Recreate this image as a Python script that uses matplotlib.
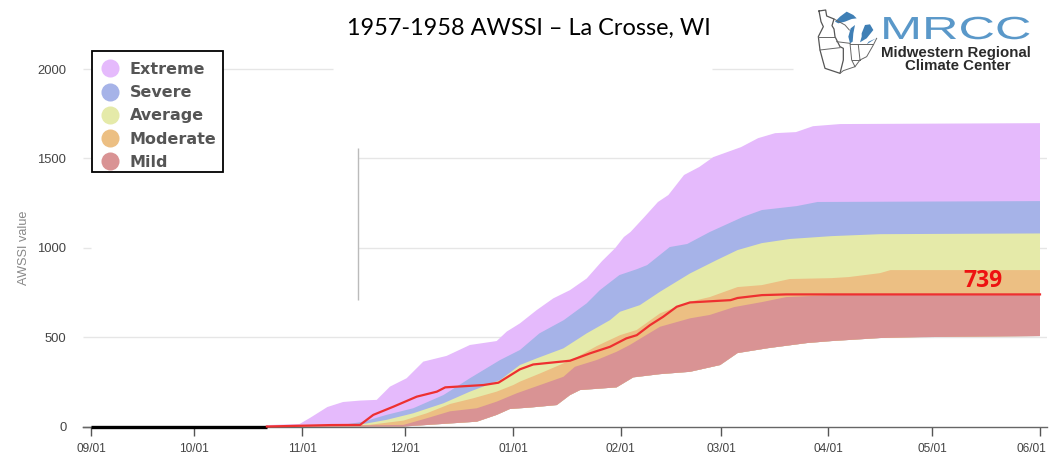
#!/usr/bin/env python3

import matplotlib

matplotlib.use("Agg")
import matplotlib.pyplot as plt
import numpy as np
from matplotlib.lines import Line2D
from matplotlib.patches import Polygon, Rectangle
from matplotlib.patheffects import AbstractPathEffect
from matplotlib.transforms import Affine2D, ScaledTranslation

W, H = 1051, 469

# days since 09/01 and AWSSI values
tick_days = [0, 29.6, 60.7, 90.3, 121.4, 152.4, 181.2, 212, 242, 273]
tick_labels = ["09/01", "10/01", "11/01", "12/01", "01/01", "02/01", "03/01", "04/01", "05/01", "06/01"]
y_ticks = [0, 500, 1000, 1500, 2000]

extreme_days = [50.6, 60, 63, 68, 72.5, 77.4, 82.2, 86, 90.8, 95.6, 102.3, 109, 116.7, 119.6, 123.4, 128.2, 133,
                137.8, 142.6, 147, 150.8, 153.3, 155.2, 159.2, 163.1, 166.1, 170.6, 175, 179, 187, 191.9, 196.8,
                202.8, 207.7, 215.5, 273]
extreme_top = [8, 14, 48, 109, 137, 145, 149, 223, 270, 363, 395, 456, 478, 531, 577, 651, 717,
               763, 828, 925, 998, 1060, 1088, 1172, 1256, 1295, 1407, 1452, 1507, 1563, 1613, 1641,
               1647, 1680, 1692, 1697]

severe_days = [50.6, 72, 78.4, 85, 92.7, 101.4, 109, 117.7, 123.4, 129, 136, 142.6, 146.4, 152, 157, 160, 166.5,
               171.5, 178, 187.5, 193, 203, 209, 273]
severe_top = [0, 8, 27, 65, 102, 176, 270, 372, 428, 521, 595, 689, 763, 847, 880, 903, 1004,
              1021, 1088, 1172, 1211, 1233, 1256, 1261]

average_days = [50.6, 78.4, 85, 92.7, 101.4, 109, 117.7, 123.4, 128.2, 135.9, 142.6, 149.3, 152.2, 157.9, 163.7,
                172.3, 180, 186, 193, 201, 213, 227, 273]
average_top = [0, 14, 37, 74, 130, 195, 260, 344, 381, 437, 521, 595, 642, 679, 754,
               856, 931, 987, 1026, 1049, 1065, 1076, 1080]

moderate_days = [50.6, 80, 89.9, 96.6, 103.3, 110, 116.7, 121.5, 123.4, 129.2, 135.9, 139.7, 145.5, 152.2, 157,
                 163.7, 172.3, 178, 186, 193, 201, 213, 218, 227, 230, 273]
moderate_top = [0, 9, 33, 74, 126, 158, 195, 232, 251, 297, 353, 387, 450, 511, 540,
                633, 698, 724, 780, 791, 825, 830, 836, 858, 875, 875]

mild_days = [50.6, 89.9, 96.6, 103.3, 111, 116.7, 122.5, 129.2, 135.9, 139.2, 145.5, 151.2, 155, 158.9, 163.7,
             172.3, 178, 185, 193, 200, 213, 273]
mild_top = [0, 9, 46, 85, 102, 139, 186, 232, 278, 334, 372, 418, 456, 502, 558,
            605, 624, 668, 696, 724, 735, 741]

floor_days = [50.6, 89.9, 111, 116.7, 120.5, 126.3, 134, 137.8, 140.7, 151.2, 156, 163.7, 172.3, 181, 186, 195,
              206, 213, 227, 238.5, 273]
floor_vals = [0, 0, 27, 65, 98, 106, 120, 176, 204, 219, 275, 293, 306, 344, 411, 439,
              467, 478, 495, 500, 506]

season_days = [0, 50.6]
season_vals = [0, 0]
red_days = [50.6, 69, 77.4, 81.2, 87, 93.7, 99.5, 101.9, 112.9, 117.2, 123.4, 127.2, 137.8, 143.5, 149.3, 154, 157,
            160.8, 164.6, 168.5, 172.3, 184, 186, 193, 200, 273]
red_vals = [0, 8, 9, 65, 111, 167, 195, 219, 232, 245, 320, 347, 368, 409, 446, 493, 511,
            567, 614, 670, 694, 707, 719, 735, 739, 739]

band_names = ["Extreme", "Severe", "Average", "Moderate", "Mild"]
band_colors = ["#e5bafc", "#a6b3e8", "#e5eaa9", "#ecbf83", "#d99394"]


class StretchX(AbstractPathEffect):
    # the logo lettering is much wider than any installed font
    def __init__(self, factor):
        super().__init__()
        self.factor = factor

    def draw_path(self, renderer, gc, tpath, affine, rgbFace=None):
        renderer.draw_path(gc, tpath, Affine2D().scale(self.factor, 1) + affine, rgbFace)


def px_x(px):
    return (px - 91) * 273 / 949


def logo_xy(points):
    # traced on a 3x crop of the logo whose corner sits at (810, 5)
    pts = np.asarray(points, dtype=float)
    return 810 + pts[:, 0] / 3, 5 + pts[:, 1] / 3


def draw_logo(over):
    outline = [(27, 18), (47, 15), (50, 33), (72, 42), (66, 62), (72, 72), (75, 95), (90, 125), (100, 130),
               (100, 165), (90, 205), (45, 190), (38, 165), (30, 135), (25, 95), (40, 65), (33, 50), (27, 18)]
    states = [[(25, 95), (75, 95)], [(30, 135), (90, 128)], [(80, 110), (120, 115)],
              [(120, 115), (125, 165), (135, 185), (100, 197), (90, 205)],
              [(145, 120), (150, 165)], [(120, 118), (190, 118)], [(125, 165), (150, 165)],
              [(150, 165), (170, 155), (190, 120), (200, 100)], [(72, 42), (105, 60), (118, 75)],
              [(135, 185), (150, 165)]]
    lakes = [[(75, 50), (90, 35), (110, 20), (130, 30), (140, 40), (125, 42), (105, 50), (85, 55)],
             [(120, 115), (115, 95), (122, 70), (135, 60), (130, 85), (128, 110)],
             [(155, 85), (165, 60), (180, 58), (190, 75), (170, 100), (150, 112), (155, 95)],
             [(170, 118), (198, 100), (176, 110)]]
    over.plot(*logo_xy(outline), color="#555555", lw=0.9)
    for line in states:
        over.plot(*logo_xy(line), color="#666666", lw=0.7)
    for lake in lakes:
        xs, ys = logo_xy(lake)
        over.add_patch(Polygon(np.column_stack([xs, ys]), closed=True, fc="#3f7fb5", ec="none"))

    mrcc = over.text(880, 39, "MRCC", family="Liberation Sans", fontsize=23, color="#5a98c9", ha="left",
                     va="baseline")
    mrcc.set_path_effects([StretchX(1.58)])
    over.text(956, 52.5, "Midwestern Regional", family="Liberation Sans", fontsize=10.8, color="#2a2a2a",
              ha="center", va="center", fontweight="bold")
    over.text(958, 66.5, "Climate Center", family="Liberation Sans", fontsize=10.8, color="#2a2a2a",
              ha="center", va="center", fontweight="bold")


def draw_legend(over):
    over.add_patch(Rectangle((92, 51), 131, 121, fc="white", ec="black", lw=1.3, zorder=5))
    handles = [Line2D([], [], marker="o", ls="", ms=13, mec="none", color=c) for c in band_colors]
    over.legend(handles, band_names, loc="upper left", bbox_to_anchor=(92 / W, 1 - 57 / H),
                bbox_transform=over.figure.transFigure, borderaxespad=0, frameon=False,
                prop={"family": "DejaVu Sans", "size": 11.5, "weight": "bold"}, labelcolor="#555555",
                labelspacing=0.52, handletextpad=0.45, borderpad=0.3, handlelength=1.6).set_zorder(6)


def main():
    fig = plt.figure(figsize=(W / 100, H / 100), dpi=100)
    ax = fig.add_axes([83 / W, (H - 426.5) / H, 964 / W, 357.5 / H])
    ax.set_xlim(px_x(83), px_x(1047))
    ax.set_ylim(0, 2000)
    for side in ["top", "left", "right"]:
        ax.spines[side].set_visible(False)
    ax.spines["bottom"].set_color("#666666")
    ax.spines["bottom"].set_linewidth(1.0)

    # parts of the grid are painted out in the reference
    grid = "#e6e6e6"
    left, right = px_x(83), px_x(1047)
    ax.hlines(2000, left, px_x(333), color=grid, lw=1.0, zorder=1, clip_on=False)
    ax.hlines(2000, px_x(712), px_x(793), color=grid, lw=1.0, zorder=1, clip_on=False)
    for val in [1000, 1500]:
        ax.hlines(val, left, px_x(91), color=grid, lw=1.0, zorder=1)
        ax.hlines(val, px_x(358), right, color=grid, lw=1.0, zorder=1)
    ax.hlines(500, left, right, color=grid, lw=1.0, zorder=1)
    ax.vlines(px_x(358), 707, 1558, color="#bbbbbb", lw=1.0, zorder=1)

    # every band runs from its own top curve down to the bottom of the envelope
    bands = [(extreme_days, extreme_top), (severe_days, severe_top), (average_days, average_top),
             (moderate_days, moderate_top), (mild_days, mild_top)]
    for (days, tops), color in zip(bands, band_colors):
        ax.fill(np.r_[days, floor_days[::-1]], np.r_[tops, floor_vals[::-1]], color=color, lw=0, zorder=2)

    ax.plot(season_days, season_vals, color="black", lw=2.4, zorder=4, clip_on=False, solid_capstyle="butt")
    ax.plot(red_days, red_vals, color="#ee3030", lw=1.6, zorder=4, clip_on=False)
    ax.plot([left, 0], [0, 0], color="#666666", lw=1.0, zorder=3, clip_on=False)

    ax.set_xticks(tick_days, tick_labels)
    ax.set_yticks(y_ticks)
    ax.tick_params(axis="x", length=6.5, width=1.0, color="#555555", labelcolor="#444444", labelsize=8.6, pad=5.5)
    ax.tick_params(axis="y", length=0, labelcolor="#444444", labelsize=9.4, pad=12)
    for label in ax.get_xticklabels() + ax.get_yticklabels():
        label.set_family("Liberation Sans")
    last = ax.get_xticklabels()[-1]
    last.set_transform(last.get_transform() + ScaledTranslation(-9 / 100, 0, fig.dpi_scale_trans))

    ax.set_ylabel("AWSSI value", family="Liberation Sans", fontsize=9.2, color="#888888")
    ax.yaxis.set_label_coords((30 - 83) / 964, 0.5)

    ax.text(256.6, 812, "739", family="Open Sans", fontweight="bold", fontsize=16.5, color="#ee1111",
            ha="center", va="center", zorder=5)

    over = fig.add_axes([0, 0, 1, 1], facecolor="none")
    over.set_xlim(0, W)
    over.set_ylim(H, 0)
    over.axis("off")
    over.text(529, 28, "1957-1958 AWSSI \u2013 La Crosse, WI", family="Lato", fontsize=16.9, color="black",
              ha="center", va="center")
    draw_legend(over)
    draw_logo(over)

    fig.savefig("out.png", dpi=100)
    plt.close(fig)
    return 0


if __name__ == "__main__":
    raise SystemExit(main())
